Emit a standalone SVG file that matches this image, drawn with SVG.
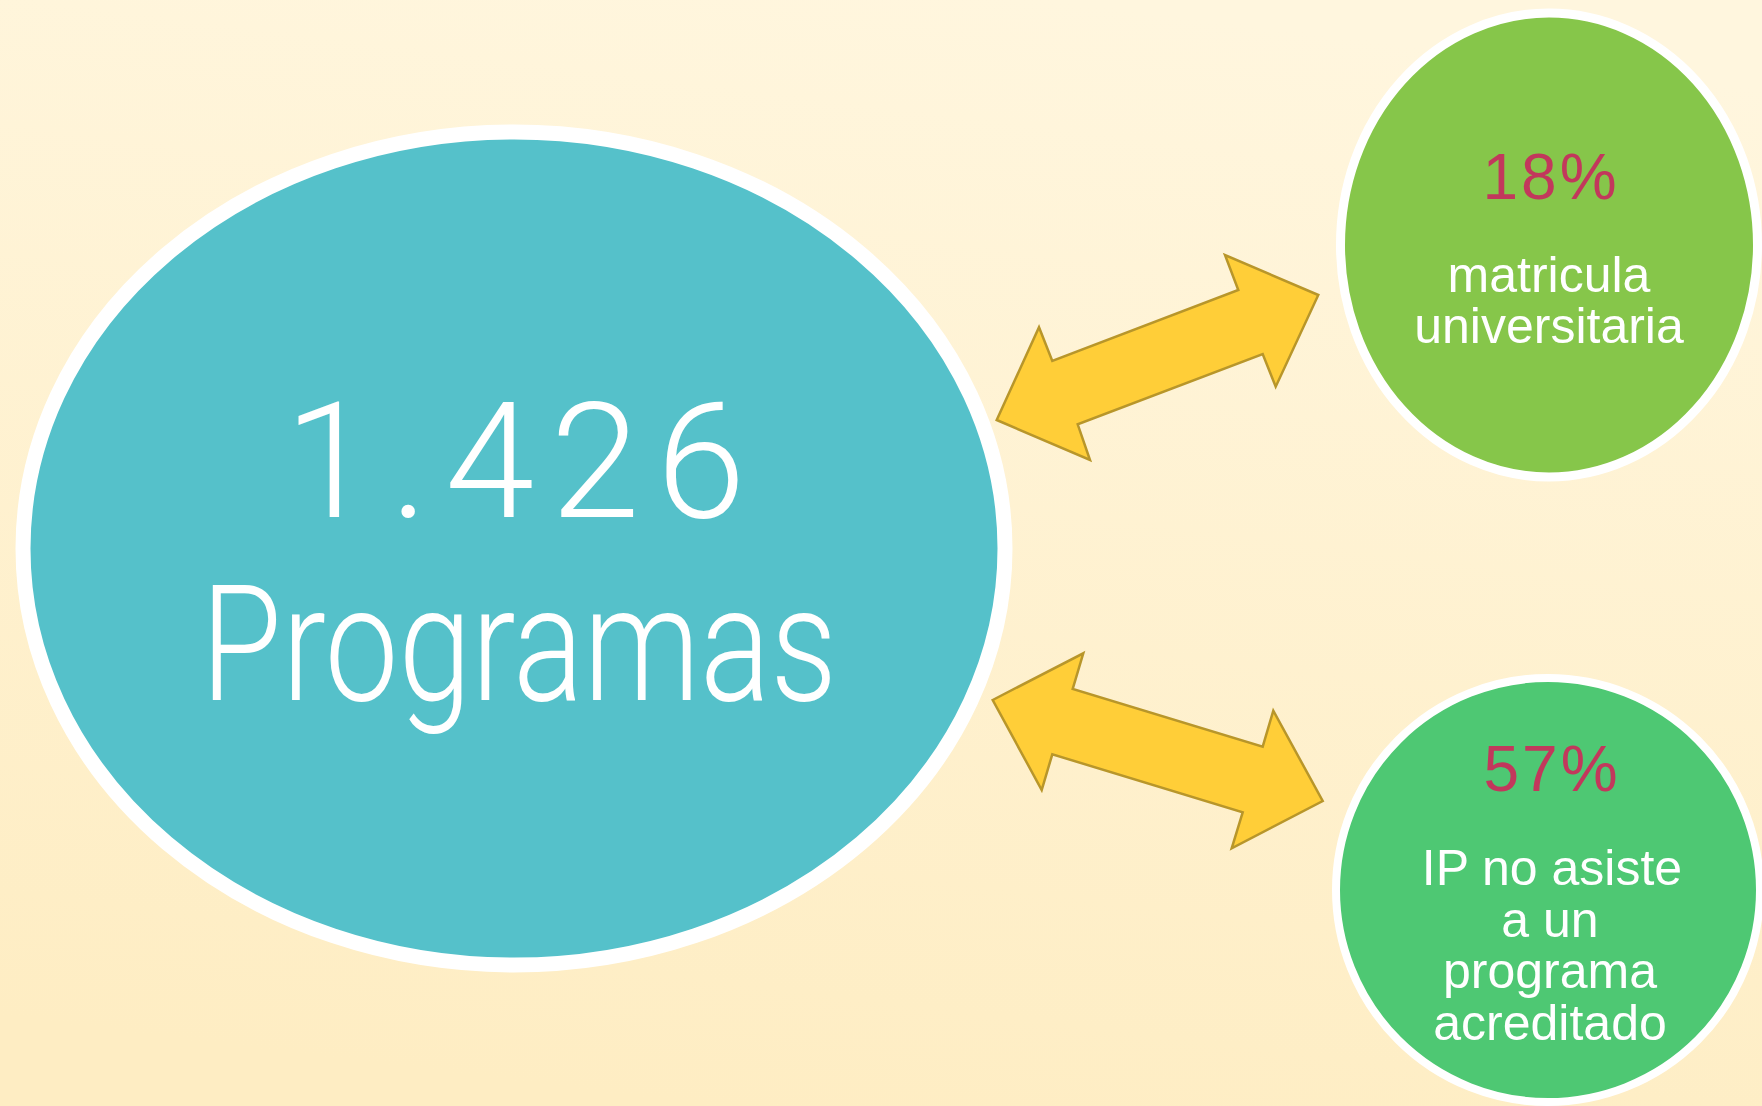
<svg xmlns="http://www.w3.org/2000/svg" width="1762" height="1106" viewBox="0 0 1762 1106">
<defs>
<linearGradient id="bg" x1="0.6" y1="0" x2="0.4" y2="1">
<stop offset="0" stop-color="#FFF6DE"/>
<stop offset="1" stop-color="#FEEDC3"/>
</linearGradient>
<style>
.ring{stroke:#FFFFFF}
.big{font-family:Roboto,"Liberation Sans",sans-serif;font-weight:300;fill:#FFFFFF;text-anchor:middle}
.pct{font-family:"Liberation Sans",Arial,sans-serif;font-size:64px;fill:#C2385C;text-anchor:middle;letter-spacing:3px}
.lbl{font-family:"Liberation Sans",Arial,sans-serif;font-size:50px;fill:#FFFFFF;text-anchor:middle}
.arrow{fill:#FFCE38;stroke:#B8962A;stroke-width:2.5;stroke-linejoin:miter}
</style>
</defs>
<rect x="0" y="0" width="1762" height="1106" fill="url(#bg)"/>
<g id="programas">
<ellipse class="ring" cx="514" cy="548.5" rx="491" ry="416.5" fill="#55C1CA" stroke-width="15"/>
<text class="big" x="515" y="517" font-size="161" textLength="461" lengthAdjust="spacing">1.426</text>
<text class="big" x="519" y="700" font-size="161" textLength="636" lengthAdjust="spacingAndGlyphs">Programas</text>
</g>
<g id="matricula">
<ellipse class="ring" cx="1549" cy="245" rx="208.5" ry="232" fill="#86C64A" stroke-width="9"/>
<text class="pct" x="1551" y="199">18%</text>
<text class="lbl" x="1549" y="292">matricula</text>
<text class="lbl" x="1549" y="343">universitaria</text>
</g>
<g id="acreditado">
<circle class="ring" cx="1548" cy="890" r="212" fill="#4EC873" stroke-width="8"/>
<text class="pct" x="1552" y="791">57%</text>
<text class="lbl" x="1552" y="885">IP no asiste</text>
<text class="lbl" x="1550" y="937">a un</text>
<text class="lbl" x="1550" y="988">programa</text>
<text class="lbl" x="1550" y="1040">acreditado</text>
</g>
<g id="connectors">
<polygon class="arrow" points="996.7,420 1039,327.3 1052.3,361 1238.3,290 1225,255 1318.3,295 1275.7,386.7 1262.7,354 1077.7,424.3 1090,460"/>
<polygon class="arrow" points="992.7,700 1083.3,653.3 1072.7,689 1262.7,746.7 1273.3,710.7 1322.7,801 1231.7,848.3 1242.7,812.3 1052.3,754.3 1041.7,790"/>
</g>
</svg>
